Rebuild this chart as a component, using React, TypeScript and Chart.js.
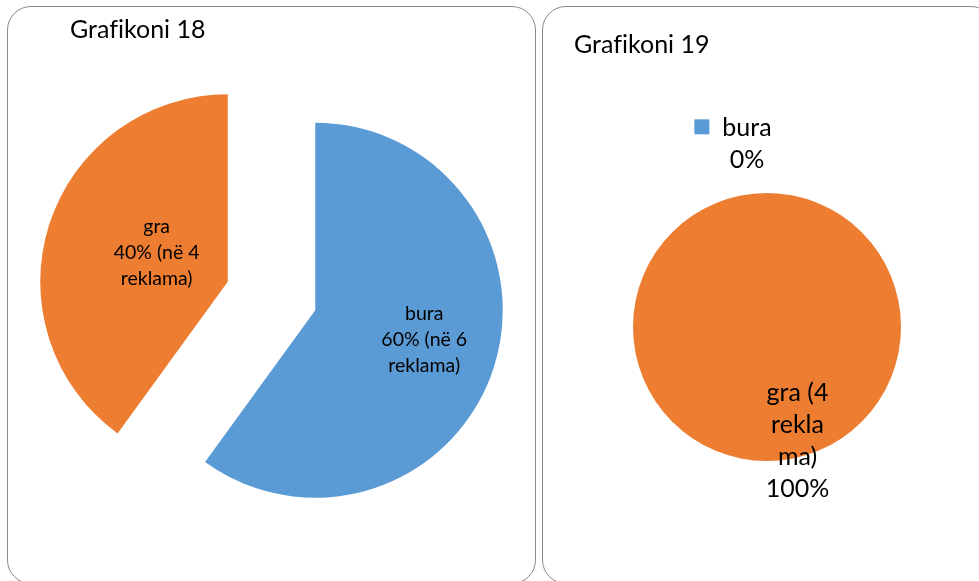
import React, { useEffect, useRef } from 'react';
import { Chart, registerables } from 'chart.js';

Chart.register(...registerables);

const FONT = 'Lato, "Open Sans", sans-serif';

// ---- Grafikoni 18 ----
const title18 = 'Grafikoni 18';
const categories18 = ['bura', 'gra'];
const values18 = [6, 4];
const labels18 = [
  ['bura', '60% (në 6', 'reklama)'],
  ['gra', '40% (në 4', 'reklama)'],
];

// ---- Grafikoni 19 ----
const title19 = 'Grafikoni 19';
const categories19 = ['bura', 'gra'];
const values19 = [0, 4];
const labels19 = [
  ['bura', '0%'],
  ['gra (4', 'rekla', 'ma)', '100%'],
];

const sliceColors = ['#5B9BD5', '#ED7D31'];

type Place = { dist: number; dx: number; dy: number; key?: boolean };

type PieProps = {
  title: string;
  titleLeft: number;
  titleTop: number;
  box: { left: number; top: number; width: number; height: number };
  categories: string[];
  values: number[];
  labels: string[][];
  radius: number;
  explode: number;
  padding: { top: number; right: number; bottom: number; left: number };
  places: Place[];
  fontSize: number;
  lineHeight: number;
};

function PieBox(p: PieProps) {
  const ref = useRef<HTMLCanvasElement | null>(null);

  useEffect(() => {
    if (!ref.current) return;

    const explodePlugin = {
      id: 'explodeSlices',
      afterDatasetUpdate(chart: any, args: any) {
        const d = p.explode;
        if (!d) return;
        args.meta.data.forEach((arc: any) => {
          const mid = (arc.startAngle + arc.endAngle) / 2;
          arc.x += Math.cos(mid) * d;
          arc.y += Math.sin(mid) * d;
        });
      },
    };

    const labelPlugin = {
      id: 'sliceLabels',
      afterDatasetsDraw(chart: any) {
        const ctx = chart.ctx as CanvasRenderingContext2D;
        const meta = chart.getDatasetMeta(0);
        ctx.save();
        ctx.font = `${p.fontSize}px ${FONT}`;
        ctx.textAlign = 'center';
        ctx.textBaseline = 'middle';
        meta.data.forEach((arc: any, i: number) => {
          const place = p.places[i];
          const lines = p.labels[i];
          const mid = (arc.startAngle + arc.endAngle) / 2;
          const r = arc.outerRadius;
          const cx = arc.x + Math.cos(mid) * r * place.dist + place.dx;
          const cy = arc.y + Math.sin(mid) * r * place.dist + place.dy;
          const top = cy - ((lines.length - 1) * p.lineHeight) / 2;
          ctx.fillStyle = '#000000';
          lines.forEach((ln, k) => ctx.fillText(ln, cx, top + k * p.lineHeight));
          if (place.key) {
            const w = ctx.measureText(lines[0]).width;
            const size = 15;
            ctx.fillStyle = sliceColors[i];
            ctx.fillRect(cx - w / 2 - 13 - size, top - size / 2 - 1, size, size);
          }
        });
        ctx.restore();
      },
    };

    const chart = new Chart(ref.current, {
      type: 'pie',
      data: {
        labels: p.categories,
        datasets: [
          {
            data: p.values,
            backgroundColor: sliceColors,
            borderWidth: 0,
          },
        ],
      },
      options: {
        responsive: false,
        animation: false,
        events: [],
        radius: p.radius,
        layout: { padding: p.padding },
        plugins: {
          legend: { display: false },
          tooltip: { enabled: false },
          title: { display: false },
        },
      } as any,
      plugins: [explodePlugin, labelPlugin],
    });
    return () => chart.destroy();
  }, []);

  const b = p.box;
  return (
    <>
      <div
        style={{
          position: 'absolute',
          left: b.left,
          top: b.top,
          width: b.width,
          height: b.height,
          border: '1px solid #8a8a8a',
          borderRadius: 24,
          boxSizing: 'border-box',
          background: '#ffffff',
        }}
      />
      <canvas
        ref={ref}
        width={b.width}
        height={b.height}
        style={{ position: 'absolute', left: b.left, top: b.top }}
      />
      <div
        style={{
          position: 'absolute',
          left: p.titleLeft,
          top: p.titleTop,
          font: `25px ${FONT}`,
          lineHeight: '30px',
          color: '#000000',
          whiteSpace: 'nowrap',
          fontVariantLigatures: 'none',
        }}
      >
        {p.title}
      </div>
    </>
  );
}

export default function App() {
  return (
    <div
      style={{
        position: 'absolute',
        left: 0,
        top: 0,
        width: 979,
        height: 581,
        overflow: 'hidden',
        background: '#ffffff',
      }}
    >
      <PieBox
        title={title18}
        titleLeft={70}
        titleTop={13}
        box={{ left: 7, top: 6, width: 529, height: 578 }}
        categories={categories18}
        values={values18}
        labels={labels18}
        radius={187.5}
        explode={46}
        padding={{ top: 2, right: 0, bottom: 0, left: 0 }}
        places={[
          { dist: 0.6, dx: 2, dy: -5 },
          { dist: 0.41, dx: 2, dy: -5 },
        ]}
        fontSize={19.5}
        lineHeight={26}
      />
      <PieBox
        title={title19}
        titleLeft={574}
        titleTop={28}
        box={{ left: 542, top: 6, width: 453, height: 578 }}
        categories={categories19}
        values={values19}
        labels={labels19}
        radius={134}
        explode={0}
        padding={{ top: 64, right: 3, bottom: 0, left: 0 }}
        places={[
          { dist: 1.367, dx: -20, dy: 0, key: true },
          { dist: 0.854, dx: 30.5, dy: 0 },
        ]}
        fontSize={25}
        lineHeight={32}
      />
    </div>
  );
}
